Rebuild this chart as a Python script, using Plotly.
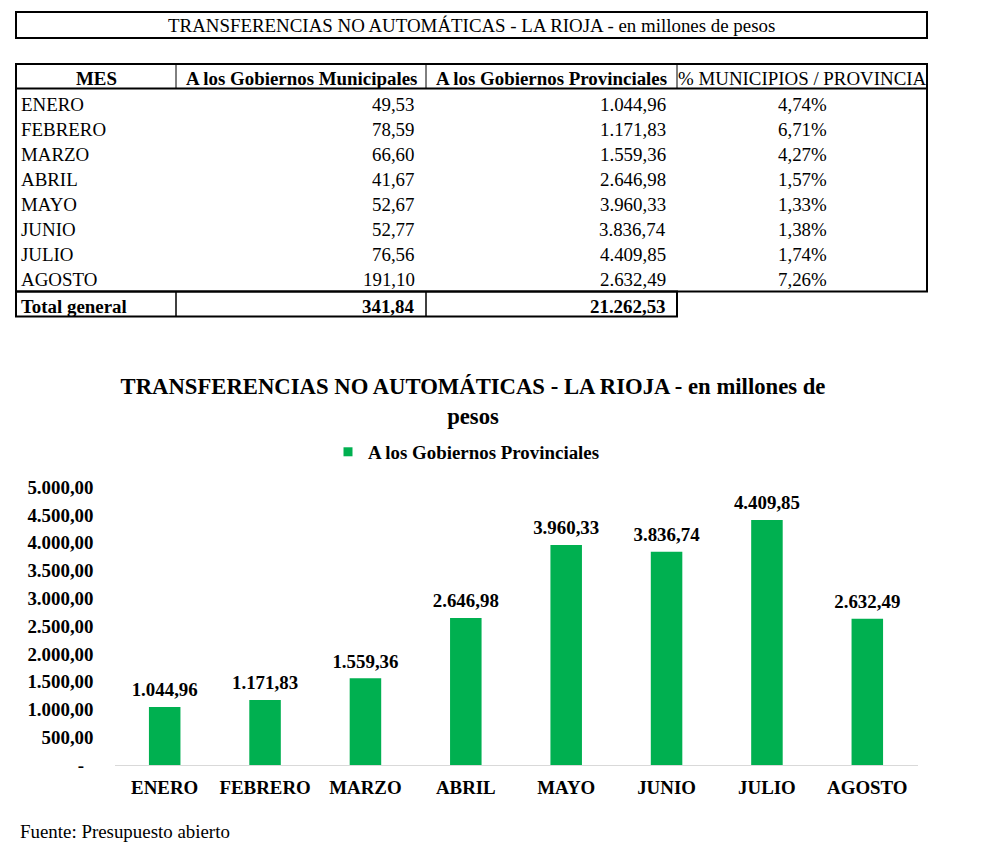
import plotly.graph_objects as go

# Datos (millones de pesos)
meses = ["ENERO", "FEBRERO", "MARZO", "ABRIL", "MAYO", "JUNIO", "JULIO", "AGOSTO"]
municipales = [49.53, 78.59, 66.60, 41.67, 52.67, 52.77, 76.56, 191.10]
provinciales = [1044.96, 1171.83, 1559.36, 2646.98, 3960.33, 3836.74, 4409.85, 2632.49]
porcentaje = [4.74, 6.71, 4.27, 1.57, 1.33, 1.38, 1.74, 7.26]
total_municipales = 341.84
total_provinciales = 21262.53

encabezados = ["MES", "A los Gobiernos Municipales",
               "A los Gobiernos Provinciales", "% MUNICIPIOS / PROVINCIA"]
titulo = "TRANSFERENCIAS NO AUTOMÁTICAS - LA RIOJA - en millones de pesos"
titulo_grafico = "TRANSFERENCIAS NO AUTOMÁTICAS - LA RIOJA - en millones de<br>pesos"
serie = "A los Gobiernos Provinciales"
fuente = "Fuente: Presupuesto abierto"
y_ticks = [0, 500, 1000, 1500, 2000, 2500, 3000, 3500, 4000, 4500, 5000]

W, H = 981, 858
FONT = "Liberation Serif"
FS = 18.9
VERDE = "#00B050"


def fmt(v):
    """Formato argentino: 1.234,56"""
    s = f"{v:,.2f}"
    return s.replace(",", "_").replace(".", ",").replace("_", ".")


def py(p):
    return 1 - p / H


# geometria de la tabla en pixeles (eje x2/y2 en pixeles)
col_edges = [16, 176, 426, 677, 927]
col_mid = [(a + b) / 2 for a, b in zip(col_edges[:-1], col_edges[1:])]
pad = 9
tabla_px = (5, 325)
caja_titulo = (12, 38)
fila_top, fila_head, fila_body, fila_bot = 64, 88.5, 291.5, 316.5
y_titulo, y_head, y_total = 25.5, 78.8, 306
y_primera, paso = 104.8, 25.0

fig = go.Figure()

# ---- grafico de barras
fig.add_trace(go.Bar(
    x=meses,
    y=provinciales,
    width=0.314,
    marker=dict(color=VERDE, line=dict(width=0)),
    showlegend=False,
    hovertemplate="%{x}: %{y:,.2f}<extra></extra>",
))

# etiquetas de valor sobre las barras
fig.add_trace(go.Scatter(
    x=meses,
    y=provinciales,
    mode="markers+text",
    marker=dict(size=8, opacity=0),
    texttemplate="%{y:,.2f}",
    textposition="top center",
    textfont=dict(family=FONT, size=FS, color="black", weight="bold"),
    cliponaxis=False,
    showlegend=False,
    hoverinfo="skip",
))

# entrada de leyenda con cuadrado chico
fig.add_trace(go.Scatter(
    x=[None], y=[None],
    mode="markers",
    marker=dict(symbol="square", size=9, color=VERDE),
    name=serie,
))

ticktext = [fmt(v) if v else "-\u00a0\u00a0" for v in y_ticks]

# ---- tabla
anots = []


def celda(texto, x, y, anchor, bold=False):
    anots.append(dict(
        text=texto, x=x, y=y, xref="x2", yref="y2",
        xanchor=anchor, yanchor="middle", showarrow=False,
        font=dict(family=FONT, size=FS, color="black",
                  weight="bold" if bold else "normal"),
    ))


celda(titulo, (col_edges[0] + col_edges[-1]) / 2, y_titulo, "center")

for j, h in enumerate(encabezados):
    celda(h, col_mid[j], y_head, "center", bold=(j < 3))

for i, mes in enumerate(meses):
    y = y_primera + i * paso
    celda(mes, col_edges[0] + 3, y, "left")
    celda(fmt(municipales[i]), col_edges[2] - pad, y, "right")
    celda(fmt(provinciales[i]), col_edges[3] - pad, y, "right")
    celda(f"{porcentaje[i]:.2f}%".replace(".", ","), col_mid[3], y, "center")

celda("Total general", col_edges[0] + 3, y_total, "left", bold=True)
celda(fmt(total_municipales), col_edges[2] - pad, y_total, "right", bold=True)
celda(fmt(total_provinciales), col_edges[3] - pad, y_total, "right", bold=True)

# fuente
anots.append(dict(
    text=fuente, x=18 / W, y=py(831), xref="paper", yref="paper",
    xanchor="left", yanchor="middle", showarrow=False,
    font=dict(family=FONT, size=FS, color="black"),
))

bordes = []


def linea(x0, y0, x1, y1, w):
    bordes.append(dict(type="line", xref="x2", yref="y2",
                       x0=x0, y0=y0, x1=x1, y1=y1,
                       line=dict(color="black", width=w)))


def caja(x0, y0, x1, y1, w):
    bordes.append(dict(type="rect", xref="x2", yref="y2",
                       x0=x0, y0=y0, x1=x1, y1=y1,
                       line=dict(color="black", width=w)))


caja(col_edges[0], caja_titulo[0], col_edges[-1], caja_titulo[1], 2)
caja(col_edges[0], fila_top, col_edges[-1], fila_body, 2)
linea(col_edges[0], fila_head, col_edges[-1], fila_head, 2)
for e in col_edges[1:-1]:
    linea(e, fila_top, e, fila_head, 1)
caja(col_edges[0], fila_body, col_edges[3], fila_bot, 2)
for e in col_edges[1:3]:
    linea(e, fila_body, e, fila_bot, 1.5)

fig.update_layout(
    width=W,
    height=H,
    margin=dict(l=0, r=0, t=0, b=0, autoexpand=False),
    paper_bgcolor="white",
    plot_bgcolor="rgba(0,0,0,0)",
    separators=",.",
    font=dict(family=FONT, size=FS, color="black"),
    title=dict(
        text=titulo_grafico,
        x=473 / W, xanchor="center", xref="paper",
        y=py(394), yanchor="top", yref="paper",
        font=dict(family=FONT, size=22.7, color="black", weight="bold"),
    ),
    showlegend=True,
    legend=dict(
        orientation="h",
        x=(368 - 40) / W, xanchor="left",
        y=py(452), yanchor="middle",
        font=dict(family=FONT, size=FS, color="black", weight="bold"),
        bgcolor="rgba(0,0,0,0)",
    ),
    xaxis=dict(
        domain=[114.5 / W, 917.5 / W],
        showline=True, linecolor="#d9d9d9", linewidth=1,
        showgrid=False, zeroline=False, automargin=False,
        ticks="", ticklabelstandoff=5,
        tickfont=dict(family=FONT, size=FS, color="black", weight="bold"),
        fixedrange=True,
    ),
    yaxis=dict(
        domain=[py(765), py(487.2)],
        range=[0, 5000],
        tickvals=y_ticks,
        ticktext=ticktext,
        showline=False, showgrid=False, zeroline=False, automargin=False,
        ticks="", ticklabelstandoff=20,
        tickfont=dict(family=FONT, size=FS, color="black", weight="bold"),
        fixedrange=True,
    ),
    xaxis2=dict(
        domain=[0, 1], range=[0, W], anchor="y2",
        visible=False, fixedrange=True, automargin=False,
    ),
    yaxis2=dict(
        domain=[py(tabla_px[1]), py(tabla_px[0])],
        range=[tabla_px[1], tabla_px[0]], anchor="x2",
        visible=False, fixedrange=True, automargin=False,
    ),
    annotations=anots,
    shapes=bordes,
)

# una traza vacia para que existan los ejes de la tabla
fig.add_trace(go.Scatter(x=[None], y=[None], xaxis="x2", yaxis="y2",
                         showlegend=False, hoverinfo="skip"))

fig.write_html("out.html", config={"displayModeBar": False},
               post_script="document.body.style.margin='0';")
